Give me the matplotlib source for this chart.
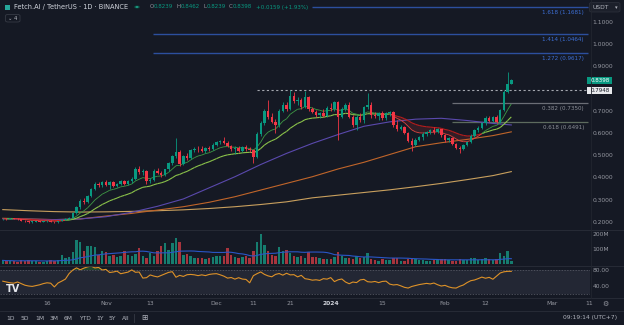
import numpy as np
import pandas as pd
import matplotlib
matplotlib.use("Agg")
import matplotlib.pyplot as plt
from matplotlib.collections import LineCollection
from matplotlib.patches import Rectangle, FancyBboxPatch, Circle
from matplotlib.lines import Line2D
from matplotlib import transforms

plt.rcParams['font.family'] = ['DejaVu Sans']

# ---------------- data (FET/USDT daily) ----------------
start_date = "2023-10-04"
opens = [0.214, 0.216, 0.214, 0.218, 0.216, 0.213, 0.207, 0.205, 0.202, 0.203, 0.205, 0.203, 0.205, 0.208, 0.203, 0.201,
         0.205, 0.212, 0.216, 0.221, 0.242, 0.268, 0.298, 0.292, 0.318, 0.350, 0.374, 0.366,
         0.380, 0.368, 0.380, 0.364, 0.372, 0.386, 0.372, 0.384, 0.396, 0.440, 0.425, 0.430,
         0.385, 0.390, 0.432, 0.422, 0.415, 0.438, 0.465, 0.498, 0.515, 0.462, 0.500, 0.488,
         0.525, 0.532, 0.528, 0.520, 0.535, 0.528, 0.550, 0.560, 0.565, 0.556, 0.545, 0.528,
         0.536, 0.522, 0.540, 0.528, 0.525, 0.492, 0.598, 0.648, 0.702, 0.672, 0.652, 0.640,
         0.702, 0.730, 0.708, 0.768, 0.745, 0.752, 0.720, 0.762, 0.708, 0.698, 0.682, 0.690,
         0.680, 0.715, 0.708, 0.740, 0.675, 0.712, 0.730, 0.675, 0.638, 0.672, 0.660, 0.718,
         0.730, 0.685, 0.678, 0.690, 0.668, 0.690, 0.695, 0.640, 0.622, 0.628, 0.602, 0.568,
         0.550, 0.572, 0.585, 0.598, 0.606, 0.615, 0.606, 0.618, 0.592, 0.570, 0.578, 0.552,
         0.535, 0.530, 0.548, 0.562, 0.590, 0.615, 0.625, 0.645, 0.670, 0.658, 0.672, 0.652,
         0.705, 0.785, 0.8239]
highs = [0.218, 0.219, 0.220, 0.219, 0.218, 0.215, 0.210, 0.207, 0.205, 0.206, 0.206, 0.206, 0.212, 0.209, 0.205, 0.206,
         0.214, 0.218, 0.222, 0.245, 0.272, 0.305, 0.310, 0.325, 0.355, 0.382, 0.380, 0.386,
         0.392, 0.385, 0.386, 0.378, 0.392, 0.392, 0.390, 0.402, 0.450, 0.452, 0.438, 0.436,
         0.398, 0.440, 0.445, 0.430, 0.442, 0.470, 0.505, 0.580, 0.525, 0.505, 0.512, 0.530,
         0.540, 0.545, 0.542, 0.540, 0.545, 0.556, 0.566, 0.570, 0.585, 0.565, 0.550, 0.542,
         0.545, 0.545, 0.548, 0.538, 0.530, 0.605, 0.655, 0.712, 0.752, 0.690, 0.665, 0.708,
         0.742, 0.740, 0.795, 0.785, 0.762, 0.760, 0.790, 0.770, 0.718, 0.705, 0.698, 0.712,
         0.722, 0.735, 0.748, 0.745, 0.720, 0.738, 0.740, 0.685, 0.682, 0.690, 0.725, 0.782,
         0.740, 0.695, 0.695, 0.700, 0.695, 0.702, 0.700, 0.660, 0.640, 0.632, 0.605, 0.580,
         0.578, 0.590, 0.605, 0.612, 0.622, 0.628, 0.625, 0.622, 0.598, 0.585, 0.582, 0.558,
         0.545, 0.552, 0.568, 0.598, 0.622, 0.632, 0.650, 0.678, 0.680, 0.680, 0.682, 0.712,
         0.795, 0.876, 0.8462]
lows = [0.211, 0.212, 0.213, 0.214, 0.212, 0.204, 0.203, 0.199, 0.199, 0.200, 0.202, 0.202, 0.203, 0.201, 0.199, 0.199,
        0.204, 0.210, 0.213, 0.218, 0.238, 0.262, 0.282, 0.288, 0.312, 0.345, 0.358, 0.360,
        0.362, 0.350, 0.358, 0.358, 0.368, 0.366, 0.368, 0.378, 0.392, 0.418, 0.415, 0.372,
        0.375, 0.385, 0.418, 0.405, 0.410, 0.432, 0.458, 0.490, 0.455, 0.458, 0.482, 0.485,
        0.515, 0.518, 0.516, 0.512, 0.522, 0.524, 0.544, 0.552, 0.552, 0.538, 0.520, 0.508,
        0.515, 0.518, 0.522, 0.515, 0.468, 0.488, 0.590, 0.640, 0.665, 0.645, 0.602, 0.630,
        0.695, 0.700, 0.704, 0.738, 0.728, 0.712, 0.715, 0.700, 0.692, 0.675, 0.668, 0.675,
        0.676, 0.700, 0.702, 0.570, 0.668, 0.700, 0.668, 0.630, 0.615, 0.650, 0.645, 0.710,
        0.670, 0.670, 0.662, 0.660, 0.662, 0.680, 0.630, 0.610, 0.615, 0.598, 0.560, 0.522,
        0.545, 0.565, 0.572, 0.590, 0.596, 0.598, 0.600, 0.585, 0.562, 0.560, 0.548, 0.528,
        0.512, 0.525, 0.542, 0.558, 0.585, 0.605, 0.618, 0.638, 0.650, 0.652, 0.645, 0.648,
        0.700, 0.780, 0.8239]
closes = [0.216, 0.214, 0.218, 0.216, 0.213, 0.207, 0.205, 0.202, 0.203, 0.205, 0.203, 0.205, 0.208, 0.203, 0.201, 0.205,
          0.212, 0.216, 0.221, 0.242, 0.268, 0.298, 0.292, 0.318, 0.350, 0.374, 0.366, 0.380,
          0.368, 0.380, 0.364, 0.372, 0.386, 0.372, 0.384, 0.396, 0.440, 0.425, 0.430, 0.385,
          0.390, 0.432, 0.422, 0.415, 0.438, 0.465, 0.498, 0.515, 0.462, 0.500, 0.488, 0.525,
          0.532, 0.528, 0.520, 0.535, 0.528, 0.550, 0.560, 0.565, 0.556, 0.545, 0.528, 0.536,
          0.522, 0.540, 0.528, 0.525, 0.492, 0.598, 0.648, 0.702, 0.672, 0.652, 0.640, 0.702,
          0.730, 0.708, 0.768, 0.745, 0.752, 0.720, 0.762, 0.708, 0.698, 0.682, 0.690, 0.680,
          0.715, 0.708, 0.740, 0.675, 0.712, 0.730, 0.675, 0.638, 0.672, 0.660, 0.718, 0.730,
          0.685, 0.678, 0.690, 0.668, 0.690, 0.695, 0.640, 0.622, 0.628, 0.602, 0.568, 0.550,
          0.572, 0.585, 0.598, 0.606, 0.615, 0.606, 0.618, 0.592, 0.570, 0.578, 0.552, 0.535,
          0.530, 0.548, 0.562, 0.590, 0.615, 0.625, 0.645, 0.670, 0.658, 0.672, 0.652, 0.705,
          0.785, 0.8239, 0.8398]
volumes_m = [22, 18, 20, 16, 14, 25, 20, 22, 18, 15, 12, 14, 20, 24, 18, 22,
             60, 35, 45, 80, 165, 150, 90, 120, 122, 112, 60, 90,
             82, 50, 58, 45, 55, 85, 60, 55, 68, 105, 55, 40,
             70, 55, 85, 118, 140, 95, 140, 178, 152, 60, 68, 50,
             40, 35, 40, 30, 40, 45, 52, 50, 55, 105, 60, 42,
             40, 48, 50, 38, 85, 150, 205, 125, 90, 60, 52, 112,
             85, 95, 75, 55, 45, 52, 40, 82, 48, 45, 38, 30,
             28, 32, 42, 80, 52, 40, 38, 30, 50, 35, 45, 70,
             32, 22, 20, 30, 25, 22, 40, 35, 18, 15, 30, 40,
             28, 22, 25, 18, 20, 22, 24, 28, 30, 22, 18, 20,
             28, 22, 25, 35, 40, 25, 28, 35, 30, 25, 30, 72,
             55, 85, 20]
# RSI values of the first 14 days (before the indicator has its own history)
rsi_warmup = [52, 50, 48, 47, 50, 46, 42, 40, 39, 41, 43, 46, 48, 47]

# long moving averages (weekly samples)
ma_dates = ["2023-10-04", "2023-10-11", "2023-10-18", "2023-10-25", "2023-11-01", "2023-11-08", "2023-11-15",
            "2023-11-22", "2023-11-29", "2023-12-06", "2023-12-13", "2023-12-20", "2023-12-27", "2024-01-03",
            "2024-01-10", "2024-01-17", "2024-01-24", "2024-01-31", "2024-02-07", "2024-02-14", "2024-02-19"]
ma50 = [0.216, 0.214, 0.212, 0.215, 0.225, 0.245, 0.272, 0.305, 0.355, 0.405, 0.460, 0.510, 0.555, 0.595,
        0.632, 0.652, 0.664, 0.668, 0.658, 0.645, 0.638]
ma100 = [0.218, 0.215, 0.212, 0.215, 0.228, 0.240, 0.255, 0.270, 0.290, 0.315, 0.345, 0.375, 0.405, 0.440,
         0.470, 0.505, 0.540, 0.558, 0.573, 0.590, 0.607]
ma200 = [0.257, 0.252, 0.248, 0.246, 0.247, 0.249, 0.252, 0.256, 0.262, 0.270, 0.280, 0.292, 0.310, 0.322,
         0.334, 0.346, 0.360, 0.375, 0.392, 0.410, 0.428]

fib_levels = [1.1681, 1.0464, 0.9617]
fib_labels = ["1.618 (1.1681)", "1.414 (1.0464)", "1.272 (0.9617)"]
retr_levels = [0.7350, 0.6491]
retr_labels = ["0.382 (0.7350)", "0.618 (0.6491)"]
hline_level = 0.7948
price_ticks = [1.1, 1.0, 0.9, 0.7, 0.6, 0.5, 0.4, 0.3, 0.2]
date_ticks = ["2023-10-16", "2023-11-01", "2023-11-13", "2023-12-01", "2023-12-11", "2023-12-21",
              "2024-01-01", "2024-01-15", "2024-02-01", "2024-02-12", "2024-03-01", "2024-03-11"]
date_tick_labels = ["16", "Nov", "13", "Dec", "11", "21", "2024", "15", "Feb", "12", "Mar", "11"]

# ---------------- styling ----------------
W, H = 624, 325
BG = '#151924'
UP, DN = '#089981', '#f23645'
TXT = '#9598a1'
FS = 4.3
ref = pd.Timestamp("2023-10-16")
dates = pd.date_range(start_date, periods=len(closes), freq="D")
xd = np.asarray((dates - ref).days, dtype=float)
o, h, l, c = map(np.asarray, (opens, highs, lows, closes))
vol = np.asarray(volumes_m, dtype=float)

def fx(px):
    return px / W

def fy(py):
    return 1 - py / H

def px2d(px):
    return (px - 47) / 3.685

XL = (px2d(0), px2d(590))

fig = plt.figure(figsize=(6.24, 3.25), dpi=100, facecolor=BG)
ax = fig.add_axes([0, fy(229), fx(590), 229 / H])
axv = fig.add_axes([0, fy(265), fx(590), 34.5 / H])
axr = fig.add_axes([0, fy(297), fx(590), 31 / H])
for a in (ax, axv, axr):
    a.set_facecolor(BG)
    a.set_xlim(*XL)
    for s in a.spines.values():
        s.set_visible(False)
    a.set_xticks([])
    a.set_yticks([])

ax.set_ylim(1.1 - (229 - 22.3) / 222.2, 1.1 + 22.3 / 222.2)
axv.set_ylim(-10, 228)
axr.set_ylim(12.5, 90)

# ---------------- main pane ----------------
mx = np.asarray((pd.to_datetime(ma_dates) - ref).days, dtype=float)
ax.plot(mx, ma200, color='#c9a05e', lw=0.8, zorder=2)
ax.plot(mx, ma100, color='#c0652a', lw=0.8, zorder=2)
ax.plot(mx, ma50, color='#5a49ad', lw=0.8, zorder=2)

# EMA ribbon (green while fast > slow, red otherwise)
cs = pd.Series(c)
fast = cs.ewm(span=9, adjust=False).mean().values
slow = cs.ewm(span=21, adjust=False).mean().values
bull = fast >= slow
ax.fill_between(xd, fast, slow, where=~bull, interpolate=True, color='#e53935', alpha=0.15, lw=0, zorder=2)
def ribbon(vals, cu, cd, lw):
    pts = np.column_stack([xd, vals]).reshape(-1, 1, 2)
    segs = np.concatenate([pts[:-1], pts[1:]], axis=1)
    cols = [cu if b else cd for b in bull[1:]]
    ax.add_collection(LineCollection(segs, colors=cols, lw=lw, zorder=3))
ribbon(slow, '#8bc34a', '#b71c1c', 0.8)
ribbon(fast, '#3f9a45', '#e0453f', 0.6)

# candles
col = np.where(c >= o, UP, DN)
ax.vlines(xd, l, h, colors=col, lw=0.6, zorder=4)
ax.bar(xd, np.maximum(np.abs(c - o), 0.0025), bottom=np.minimum(o, c), width=0.66,
       color=col, lw=0, zorder=5)

# fib extension lines
for lev, lab, x0 in zip(fib_levels, fib_labels, [312, 153, 153]):
    ax.hlines(lev, px2d(x0), px2d(588), colors='#2c4f9e', lw=1.0, zorder=1)
    ax.text(px2d(584), lev, lab, transform=transforms.offset_copy(ax.transData, fig=fig, y=-3.7, units='points'),
            ha='right', va='center', fontsize=FS - 0.2, color='#3d6fd6')
for lev, lab, cl in zip(retr_levels, retr_labels, ['#6b6e76', '#5d6b5e']):
    ax.hlines(lev, px2d(452), px2d(588), colors=cl, lw=0.9, zorder=1)
    ax.text(px2d(584), lev, lab, transform=transforms.offset_copy(ax.transData, fig=fig, y=-3.6, units='points'),
            ha='right', va='center', fontsize=FS - 0.2, color='#8c8f98')
ax.hlines(hline_level, px2d(257), XL[1], colors='#a3a6ae', lw=0.8, linestyles=(0, (2, 2.2)), zorder=1)

# price scale labels
tr_p = transforms.blended_transform_factory(fig.transFigure, ax.transData)
for p in price_ticks:
    fig.text(fx(592.5), p, f"{p:.4f}", transform=tr_p, ha='left', va='center', fontsize=FS, color=TXT)
for lev, txt, fc, tc in [(c[-1], f"{c[-1]:.4f}", UP, 'white'), (hline_level, f"{hline_level:.4f}", '#e8e9ec', '#131722')]:
    yy = ax.transData.transform((0, lev))[1] / H
    fig.add_artist(Rectangle((fx(587.3), yy - 3.4 / H), 25 / W, 6.8 / H, transform=fig.transFigure,
                             facecolor=fc, edgecolor='none'))
    fig.text(fx(599.8), yy, txt, ha='center', va='center', fontsize=FS - 0.3, color=tc)

# ---------------- volume pane ----------------
vcol = np.where(c >= o, '#167d6f', '#a8343d')
axv.bar(xd, vol, width=0.66, color=vcol, lw=0)
vma = pd.Series(vol).rolling(20, min_periods=1).mean().values
axv.plot(xd, vma, color='#2a56c6', lw=0.8)
tr_v = transforms.blended_transform_factory(fig.transFigure, axv.transData)
for v, t in [(200, "200M"), (100, "100M")]:
    fig.text(fx(592.5), v, t, transform=tr_v, ha='left', va='center', fontsize=FS, color=TXT)

# ---------------- RSI pane ----------------
diff = np.diff(c)
gain = np.clip(diff, 0, None)
loss = np.clip(-diff, 0, None)
n = 14
ag = gain[:n].mean()
al = loss[:n].mean()
rsi = list(rsi_warmup)
for i in range(n, len(diff)):
    ag = (ag * (n - 1) + gain[i]) / n
    al = (al * (n - 1) + loss[i]) / n
    rsi.append(100 - 100 / (1 + ag / al) if al > 0 else 100)
rsi = np.asarray(rsi[:len(c)])
if len(rsi) < len(c):
    rsi = np.concatenate([rsi, np.full(len(c) - len(rsi), rsi[-1])])
axr.axhspan(20, 80, color='#232734', lw=0)
axr.axhline(80, color='#5d606b', lw=0.5, ls=(0, (2, 2)))
axr.axhline(20, color='#5d606b', lw=0.5, ls=(0, (2, 2)))
axr.fill_between(xd, 80, rsi, where=rsi > 80, interpolate=True, color='#2e7d32', alpha=0.45, lw=0)
axr.plot(xd, rsi, color='#de9228', lw=0.8)
tr_r = transforms.blended_transform_factory(fig.transFigure, axr.transData)
for v in (80, 40):
    fig.text(fx(592.5), v, f"{v:.2f}", transform=tr_r, ha='left', va='center', fontsize=FS, color=TXT)
fig.text(fx(13), fy(288.5), "TV", ha='center', va='center', fontsize=7, fontweight='bold', color='#e6e8ee')

# ---------------- time axis ----------------
tr_t = transforms.blended_transform_factory(axr.transData, fig.transFigure)
tx = np.asarray((pd.to_datetime(date_ticks) - ref).days, dtype=float)
for t, lab in zip(tx, date_tick_labels):
    bold = lab == "2024"
    fig.text(t, fy(303.5), lab, transform=tr_t, ha='center', va='center', fontsize=FS,
             color='#d1d4dc' if bold else TXT, fontweight='bold' if bold else 'normal')
fig.text(fx(605), fy(303.5), "⚙", ha='center', va='center', fontsize=5, color=TXT)

# ---------------- separators ----------------
for yy in (229.5, 265.5, 297.5, 311.0):
    fig.add_artist(Line2D([0, 1], [fy(yy), fy(yy)], color='#2a2e39', lw=0.6))
fig.add_artist(Line2D([fx(590.5), fx(590.5)], [fy(0), fy(297.5)], color='#22262f', lw=0.6))

# ---------------- header ----------------
fig.add_artist(Rectangle((fx(5), fy(10)), 5 / W, 5 / H, transform=fig.transFigure, facecolor='#26a69a', edgecolor='none'))
fig.text(fx(14.5), fy(7), "Fetch.AI / TetherUS · 1D · BINANCE", ha='left', va='center', fontsize=4.75, color='#d1d4dc')
fig.add_artist(Circle((fx(137), fy(7)), 2.8 / W, transform=fig.transFigure, facecolor='#0b4d42', edgecolor='none'))
fig.add_artist(Circle((fx(137), fy(7)), 1.5 / W, transform=fig.transFigure, facecolor='#22ab94', edgecolor='none'))
hdr = [("O", 149.5, TXT), (f"{o[-1]:.4f}", 154.0, UP), ("H", 176.5, TXT), (f"{h[-1]:.4f}", 181.0, UP),
       ("L", 203.5, TXT), (f"{l[-1]:.4f}", 206.7, UP), ("C", 228.5, TXT), (f"{c[-1]:.4f}", 232.5, UP),
       (f"+{c[-1] - c[-2]:.4f} (+{(c[-1] / c[-2] - 1) * 100:.2f}%)", 255.5, UP)]
for s, x0, cl in hdr:
    fig.text(fx(x0), fy(7), s, ha='left', va='center', fontsize=3.95, color=cl)
fig.add_artist(FancyBboxPatch((fx(5.5), fy(22)), 14.5 / W, 7.5 / H, boxstyle="round,pad=0,rounding_size=0.004",
                              transform=fig.transFigure, facecolor='none', edgecolor='#363a45', lw=0.6))
fig.text(fx(12.7), fy(18), "⌄ 4", ha='center', va='center', fontsize=3.8, color='#b2b5be')

# USDT box
fig.add_artist(FancyBboxPatch((fx(589.5), fy(12)), 30.5 / W, 9.5 / H, boxstyle="round,pad=0,rounding_size=0.004",
                              transform=fig.transFigure, facecolor='#1c202b', edgecolor='#2e323d', lw=0.5))
fig.text(fx(592.5), fy(7.2), "USDT", ha='left', va='center', fontsize=FS, color='#b2b5be')
fig.text(fx(616.5), fy(7.2), "▾", ha='center', va='center', fontsize=3.8, color='#b2b5be')

# ---------------- bottom toolbar ----------------
for s, x0 in [("1D", 11), ("5D", 25), ("1M", 39.4), ("3M", 53.7), ("6M", 68), ("YTD", 85), ("1Y", 100),
              ("5Y", 112.6), ("All", 125.3)]:
    fig.text(fx(x0), fy(318), s, ha='center', va='center', fontsize=FS, color='#b2b5be')
fig.add_artist(Line2D([fx(133.5), fx(133.5)], [fy(314), fy(322)], color='#363a45', lw=0.6))
fig.text(fx(144), fy(318), "⊞", ha='center', va='center', fontsize=5.5, color='#b2b5be')
fig.text(fx(590.5), fy(318), "09:19:14 (UTC+7)", ha='center', va='center', fontsize=FS, color='#b2b5be')

fig.savefig("out.png", dpi=100, facecolor=BG)
